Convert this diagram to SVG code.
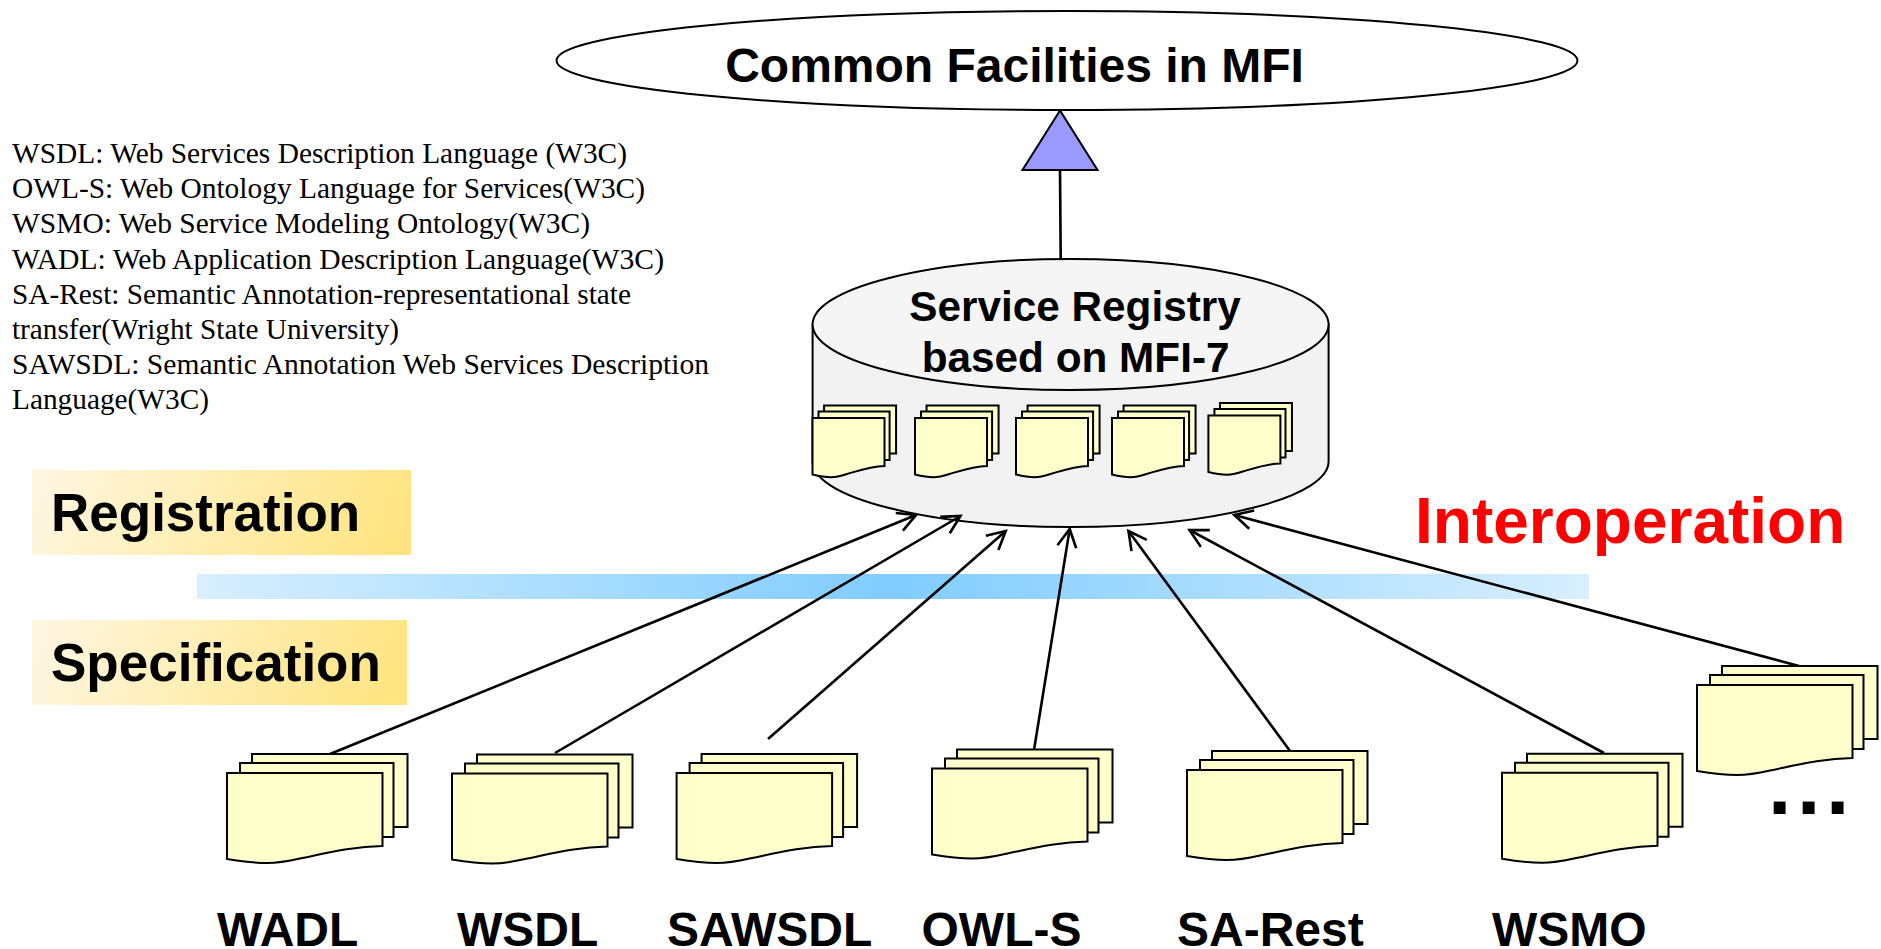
<svg xmlns="http://www.w3.org/2000/svg" xmlns:xlink="http://www.w3.org/1999/xlink" width="1881" height="949" viewBox="0 0 1881 949">
<style>
.b{font-family:"Liberation Sans",Arial,sans-serif;font-weight:700;fill:#000}
.t{font-family:"Liberation Serif","Times New Roman",serif;font-size:29px;fill:#000}
.lbl{font-size:48px}
.sh{stroke:#000;stroke-width:2;fill:#ffffcc;vector-effect:non-scaling-stroke;stroke-linejoin:miter}
.c{fill:none;stroke:#000;stroke-width:2.6}
</style>
<defs>
<linearGradient id="y" x1="0" y1="0.45" x2="1" y2="0.55"><stop offset="0" stop-color="#fff6e0"/><stop offset="1" stop-color="#ffe480"/></linearGradient>
<linearGradient id="bl" x1="0" y1="0" x2="1" y2="0"><stop offset="0" stop-color="#d8efff"/><stop offset="0.5" stop-color="#80ccff"/><stop offset="1" stop-color="#d8efff"/></linearGradient>
<marker id="a" markerUnits="userSpaceOnUse" markerWidth="30" markerHeight="30" viewBox="-22 -15 30 30" refX="0" refY="0" orient="auto" overflow="visible"><path d="M-18,-9.5L0,0L-18,9.5" fill="none" stroke="#000" stroke-width="2.6"/></marker>
<g id="doc">
<rect class="sh" x="25" y="-19" width="155.5" height="73"/>
<rect class="sh" x="13" y="-10" width="153.5" height="74"/>
<path class="sh" d="M0,0H155.5V73C125,73.5 100,80 73,85.5C62,88 50,90 40,90C25,90 12,88 0,86Z"/>
</g>
</defs>

<g id="band-registration"><rect x="32" y="470" width="379" height="85" fill="url(#y)"/><text class="b" x="51" y="531" font-size="53">Registration</text></g>
<g id="band-specification"><rect x="32" y="620" width="375" height="85" fill="url(#y)"/><text class="b" x="51" y="681" font-size="53">Specification</text></g>
<rect id="divider" x="197" y="574" width="1392" height="25" fill="url(#bl)"/>

<g id="legend">
<text class="t" x="12" y="162.7" textLength="615" lengthAdjust="spacingAndGlyphs">WSDL: Web Services Description Language (W3C)</text>
<text class="t" x="12" y="198" textLength="633" lengthAdjust="spacingAndGlyphs">OWL-S: Web Ontology Language for Services(W3C)</text>
<text class="t" x="12" y="233" textLength="578" lengthAdjust="spacingAndGlyphs">WSMO: Web Service Modeling Ontology(W3C)</text>
<text class="t" x="12" y="268.7" textLength="652" lengthAdjust="spacingAndGlyphs">WADL: Web Application Description Language(W3C)</text>
<text class="t" x="12" y="304" textLength="619" lengthAdjust="spacingAndGlyphs">SA-Rest: Semantic Annotation-representational state</text>
<text class="t" x="12" y="338.7" textLength="387" lengthAdjust="spacingAndGlyphs">transfer(Wright State University)</text>
<text class="t" x="12" y="374" textLength="697" lengthAdjust="spacingAndGlyphs">SAWSDL: Semantic Annotation Web Services Description</text>
<text class="t" x="12" y="408.7" textLength="197" lengthAdjust="spacingAndGlyphs">Language(W3C)</text>
</g>

<g id="common-facilities">
<ellipse cx="1067" cy="60.5" rx="510.5" ry="49.5" fill="#fff" stroke="#000" stroke-width="2"/>
<text class="b" x="1014.5" y="81.7" font-size="48" text-anchor="middle">Common Facilities in MFI</text>
</g>

<g id="service-registry">
<path d="M812.6,324.5V461.5A258,65.5 0 0 0 1328.6,461.5V324.5Z" fill="#f2f2f2" stroke="#000" stroke-width="2"/>
<ellipse cx="1070.6" cy="324.5" rx="258" ry="65.5" fill="#f5f5f5" stroke="#000" stroke-width="2"/>
<text class="b" x="1075" y="321" font-size="42.3" text-anchor="middle">Service Registry</text>
<text class="b" x="1075.6" y="372" font-size="42.3" text-anchor="middle">based on MFI-7</text>
<use xlink:href="#doc" href="#doc" transform="translate(812.5 418) scale(.463 .657)"/>
<use xlink:href="#doc" href="#doc" transform="translate(915 418) scale(.463 .657)"/>
<use xlink:href="#doc" href="#doc" transform="translate(1016 418) scale(.463 .657)"/>
<use xlink:href="#doc" href="#doc" transform="translate(1112 418) scale(.463 .657)"/>
<use xlink:href="#doc" href="#doc" transform="translate(1208.4 415.5) scale(.463 .657)"/>
</g>

<g id="connectors">
<path class="c" d="M1060,170L1060.7,259"/>
<path class="c" marker-end="url(#a)" d="M330,754L916,515"/>
<path class="c" marker-end="url(#a)" d="M555,753L960.5,516"/>
<path class="c" marker-end="url(#a)" d="M768,739L1005.7,531"/>
<path class="c" marker-end="url(#a)" d="M1034,750L1069.7,529"/>
<path class="c" marker-end="url(#a)" d="M1290,751L1128.5,531"/>
<path class="c" marker-end="url(#a)" d="M1604,753L1189.5,530"/>
<path class="c" marker-end="url(#a)" d="M1799,666L1234.3,515"/>
</g>

<polygon id="triangle" points="1060,110.5 1022.5,170 1097.5,170" fill="#9999ff" stroke="#000" stroke-width="2"/>

<g id="doc-wadl"><use xlink:href="#doc" href="#doc" transform="translate(227 773)"/><text class="b lbl" x="217" y="946">WADL</text></g>
<g id="doc-wsdl"><use xlink:href="#doc" href="#doc" transform="translate(452 773.5)"/><text class="b lbl" x="457" y="946">WSDL</text></g>
<g id="doc-sawsdl"><use xlink:href="#doc" href="#doc" transform="translate(676.6 773)"/><text class="b lbl" x="667" y="946">SAWSDL</text></g>
<g id="doc-owls"><use xlink:href="#doc" href="#doc" transform="translate(932 768.5)"/><text class="b lbl" x="921.5" y="946">OWL-S</text></g>
<g id="doc-sarest"><use xlink:href="#doc" href="#doc" transform="translate(1187 770)"/><text class="b lbl" x="1177" y="946">SA-Rest</text></g>
<g id="doc-wsmo"><use xlink:href="#doc" href="#doc" transform="translate(1502 772.7)"/><text class="b lbl" x="1492" y="946">WSMO</text></g>
<g id="doc-more"><use xlink:href="#doc" href="#doc" transform="translate(1697 685)"/><text class="b" x="1768" y="814" font-size="84" letter-spacing="5.6">...</text></g>

<text id="interoperation" class="b" x="1415" y="543" font-size="64" style="fill:#ff0000">Interoperation</text>
</svg>
